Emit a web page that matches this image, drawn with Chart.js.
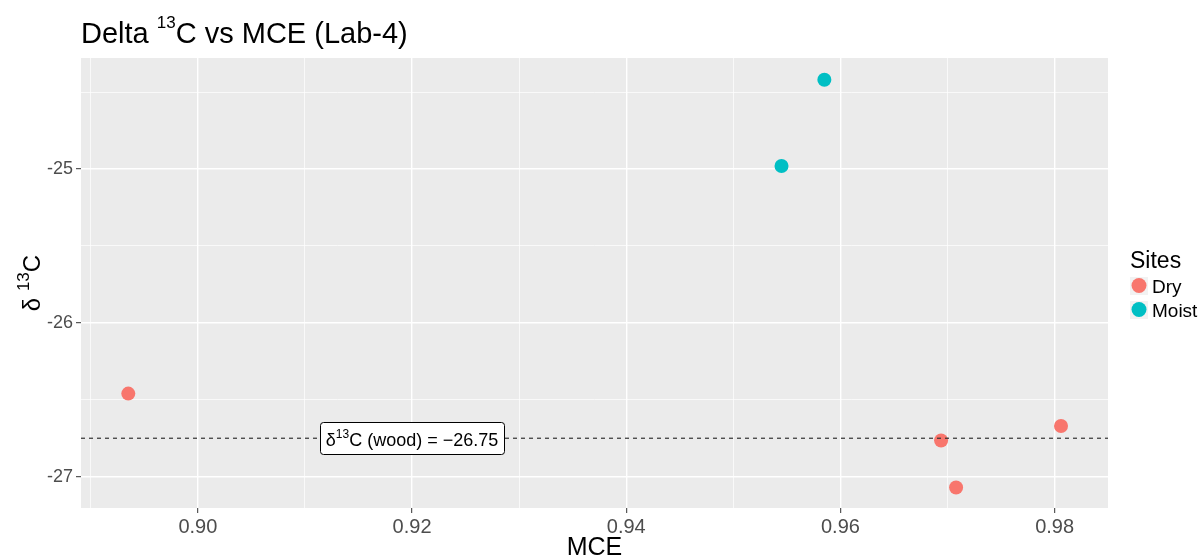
<!DOCTYPE html>
<html>
<head>
<meta charset="utf-8">
<script src="https://cdn.jsdelivr.net/npm/chart.js@4"></script>
<style>
  html, body { margin: 0; padding: 0; background: #ffffff; }
  canvas { display: block; }
</style>
</head>
<body>
<canvas id="chart" width="1203" height="556"></canvas>
<script>
// values
const dryMCE = [0.8935, 0.9694, 0.9708, 0.9806];
const dryD13C = [-26.46, -26.765, -27.07, -26.67];
const moistMCE = [0.9545, 0.9585];
const moistD13C = [-24.98, -24.42];
const woodD13C = -26.75;
const woodLabelAt = 0.92;

const xMajor = [0.90, 0.92, 0.94, 0.96, 0.98];
const xMinor = [0.89, 0.91, 0.93, 0.95, 0.97];
const yMajor = [-27, -26, -25];
const yMinor = [-26.5, -25.5, -24.5];
const xRange = [0.889085, 0.984986];
const yRange = [-27.2035, -24.2783];

const FONT = '"Liberation Sans", Arial, sans-serif';
const DRY = '#F8766D';
const MOIST = '#00BFC4';

function toPoints(xs, ys) {
  return xs.map((x, i) => ({ x: x, y: ys[i] }));
}

function tickList(major, minor) {
  return major.concat(minor).sort((a, b) => a - b)
    .map(v => ({ value: v, isMajor: major.includes(v) }));
}

// draw a run of text pieces, some raised (superscripts)
function drawParts(ctx, parts, x, y) {
  let cx = x;
  parts.forEach(p => {
    ctx.font = p.size + 'px ' + FONT;
    ctx.fillText(p.t, cx, y - (p.rise || 0));
    cx += ctx.measureText(p.t).width;
  });
  return cx - x;
}

function partsWidth(ctx, parts) {
  let w = 0;
  parts.forEach(p => {
    ctx.font = p.size + 'px ' + FONT;
    w += ctx.measureText(p.t).width;
  });
  return w;
}

const panelBg = {
  id: 'panelBg',
  beforeDraw(chart) {
    const { ctx, chartArea: a } = chart;
    ctx.save();
    ctx.fillStyle = '#EBEBEB';
    ctx.fillRect(a.left, a.top, a.right - a.left, a.bottom - a.top);
    ctx.restore();
  }
};

const textLayer = {
  id: 'textLayer',
  afterDraw(chart) {
    const { ctx, chartArea: a } = chart;
    const xs = chart.scales.x, ys = chart.scales.y;
    ctx.save();
    ctx.textBaseline = 'alphabetic';
    ctx.textAlign = 'left';
    ctx.fillStyle = '#000000';

    // title
    drawParts(ctx, [
      { t: 'Delta ', size: 29 },
      { t: '13', size: 17, rise: 15 },
      { t: 'C vs MCE (Lab-4)', size: 29 }
    ], 81, 43);

    // x axis title
    ctx.font = '25px ' + FONT;
    ctx.textAlign = 'center';
    ctx.fillText('MCE', (a.left + a.right) / 2, 555);
    ctx.textAlign = 'left';

    // y axis title
    const yParts = [
      { t: 'δ ', size: 24 },
      { t: '13', size: 17, rise: 11 },
      { t: 'C', size: 24 }
    ];
    ctx.save();
    ctx.translate(40, (a.top + a.bottom) / 2);
    ctx.rotate(-Math.PI / 2);
    drawParts(ctx, yParts, -partsWidth(ctx, yParts) / 2, 0);
    ctx.restore();

    // wood reference label
    const lp = [
      { t: 'δ', size: 18 },
      { t: '13', size: 12, rise: 8 },
      { t: 'C (wood) = \u221226.75', size: 18 }
    ];
    const lw = partsWidth(ctx, lp);
    const cx = xs.getPixelForValue(woodLabelAt);
    const cy = ys.getPixelForValue(woodD13C);
    const bw = lw + 12, bh = 32;
    ctx.beginPath();
    ctx.roundRect(Math.round(cx - bw / 2) + 0.5, Math.round(cy - bh / 2) + 0.5, Math.round(bw), bh, 3);
    ctx.fillStyle = '#ffffff';
    ctx.fill();
    ctx.lineWidth = 1;
    ctx.strokeStyle = '#000000';
    ctx.stroke();
    ctx.fillStyle = '#000000';
    drawParts(ctx, lp, cx - lw / 2, cy + 8);

    // legend
    ctx.font = '23px ' + FONT;
    ctx.fillText('Sites', 1130, 268);
    const keys = [['Dry', DRY], ['Moist', MOIST]];
    keys.forEach((k, i) => {
      const ky = 277 + i * 24;
      ctx.fillStyle = '#F2F2F2';
      ctx.fillRect(1130, ky, 18, 18);
      ctx.beginPath();
      ctx.arc(1139, ky + 8.5, 7.5, 0, Math.PI * 2);
      ctx.fillStyle = k[1];
      ctx.fill();
      ctx.fillStyle = '#000000';
      ctx.font = '19px ' + FONT;
      ctx.fillText(k[0], 1152, ky + 16);
    });
    ctx.restore();
  }
};

function gridOpts() {
  return {
    color: '#ffffff',
    lineWidth: c => (c.tick && c.tick.isMajor ? 1.4 : 0.7),
    drawTicks: true,
    tickLength: 5,
    tickWidth: 1,
    tickColor: c => (c.tick && c.tick.isMajor ? '#333333' : 'rgba(0,0,0,0)')
  };
}

new Chart(document.getElementById('chart'), {
  type: 'scatter',
  data: {
    datasets: [
      {
        type: 'line',
        label: 'wood',
        data: [{ x: xRange[0], y: woodD13C }, { x: xRange[1], y: woodD13C }],
        borderColor: '#333333',
        borderWidth: 1.2,
        borderDash: [4, 4],
        pointRadius: 0,
        fill: false,
        order: 0
      },
      {
        label: 'Dry',
        data: toPoints(dryMCE, dryD13C),
        backgroundColor: DRY,
        borderWidth: 0,
        pointRadius: 7,
        order: 1
      },
      {
        label: 'Moist',
        data: toPoints(moistMCE, moistD13C),
        backgroundColor: MOIST,
        borderWidth: 0,
        pointRadius: 7,
        order: 1
      }
    ]
  },
  options: {
    responsive: false,
    animation: false,
    devicePixelRatio: 1,
    layout: { padding: { left: 0, right: 95, top: 58, bottom: 0 } },
    plugins: {
      legend: { display: false },
      tooltip: { enabled: false },
      title: { display: false }
    },
    scales: {
      x: {
        type: 'linear',
        min: xRange[0],
        max: xRange[1],
        afterBuildTicks: s => { s.ticks = tickList(xMajor, xMinor); },
        afterFit: s => { s.height = 48; },
        grid: gridOpts(),
        border: { display: false },
        ticks: {
          autoSkip: false,
          maxRotation: 0,
          padding: 2,
          color: '#4D4D4D',
          font: { family: FONT, size: 20 },
          callback: v => (xMajor.includes(v) ? v.toFixed(2) : '')
        }
      },
      y: {
        type: 'linear',
        min: yRange[0],
        max: yRange[1],
        afterBuildTicks: s => { s.ticks = tickList(yMajor, yMinor); },
        afterFit: s => { s.width = 81; },
        grid: gridOpts(),
        border: { display: false },
        ticks: {
          autoSkip: false,
          padding: 3,
          color: '#4D4D4D',
          font: { family: FONT, size: 18 },
          callback: v => (yMajor.includes(v) ? String(v) : '')
        }
      }
    }
  },
  plugins: [panelBg, textLayer]
});
</script>
</body>
</html>
